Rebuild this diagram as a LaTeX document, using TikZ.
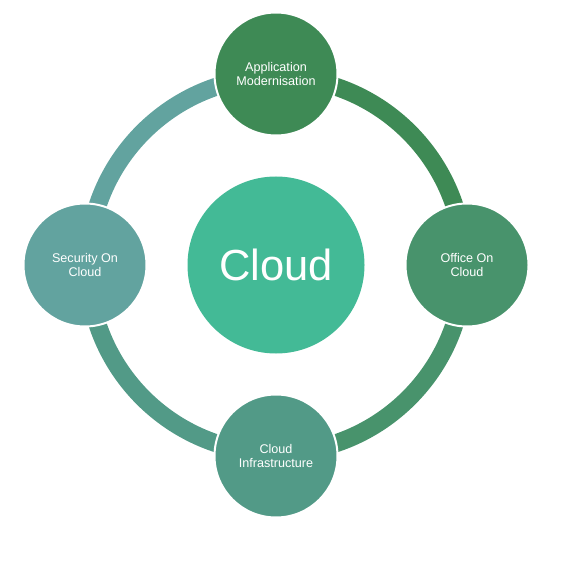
\documentclass[tikz,border=0pt]{standalone}
\usepackage{fontspec}
\setmainfont{Liberation Sans}
\usepackage{tikz}
\usetikzlibrary{positioning}
\definecolor{appgreen}{RGB}{62, 138, 85}
\definecolor{officegreen}{RGB}{72, 147, 108}
\definecolor{infragreen}{RGB}{82, 154, 135}
\definecolor{securityteal}{RGB}{98, 163, 159}
\definecolor{cloudgreen}{RGB}{67, 186, 150}

\begin{document}
\begin{tikzpicture}[x=1pt, y=1pt,
  topic/.style={circle, draw=white, line width=2pt, minimum size=123pt, inner sep=0pt,
    text=white, align=center, font=\fontsize{12.6}{14}\selectfont},
  ring/.style={line width=18pt}]

  \useasboundingbox (0,0) rectangle (580,560);

  % centre of the ring
  \coordinate (ctr) at (276,295);

  % outer topics (placed first so the ring can start from them)
  \path (ctr) ++(0,191) coordinate (appmodpos);
  \path (ctr) ++(191,0) coordinate (officepos);
  \path (ctr) ++(0,-191) coordinate (infrapos);
  \path (ctr) ++(-191,0) coordinate (securitypos);

  % ring segments, clockwise
  \draw[ring, appgreen] (ctr) ++(90:188) arc[start angle=90, end angle=0, radius=188];
  \draw[ring, officegreen] (ctr) ++(0:188) arc[start angle=0, end angle=-90, radius=188];
  \draw[ring, infragreen] (ctr) ++(-90:188) arc[start angle=-90, end angle=-180, radius=188];
  \draw[ring, securityteal] (ctr) ++(180:188) arc[start angle=180, end angle=90, radius=188];

  % topic circles
  \node[topic, fill=appgreen] (appmod) at (appmodpos) {Application\\Modernisation};
  \node[topic, fill=officegreen] (office) at (officepos) {Office On\\Cloud};
  \node[topic, fill=infragreen] (infra) at (infrapos) {Cloud\\Infrastructure};
  \node[topic, fill=securityteal] (security) at (securitypos) {Security On\\Cloud};

  % centre circle
  \node[circle, fill=cloudgreen, minimum size=177pt, inner sep=0pt, text=white,
    font=\fontsize{43.5}{50}\selectfont] (cloud) at (ctr) {Cloud};

\end{tikzpicture}
\end{document}
